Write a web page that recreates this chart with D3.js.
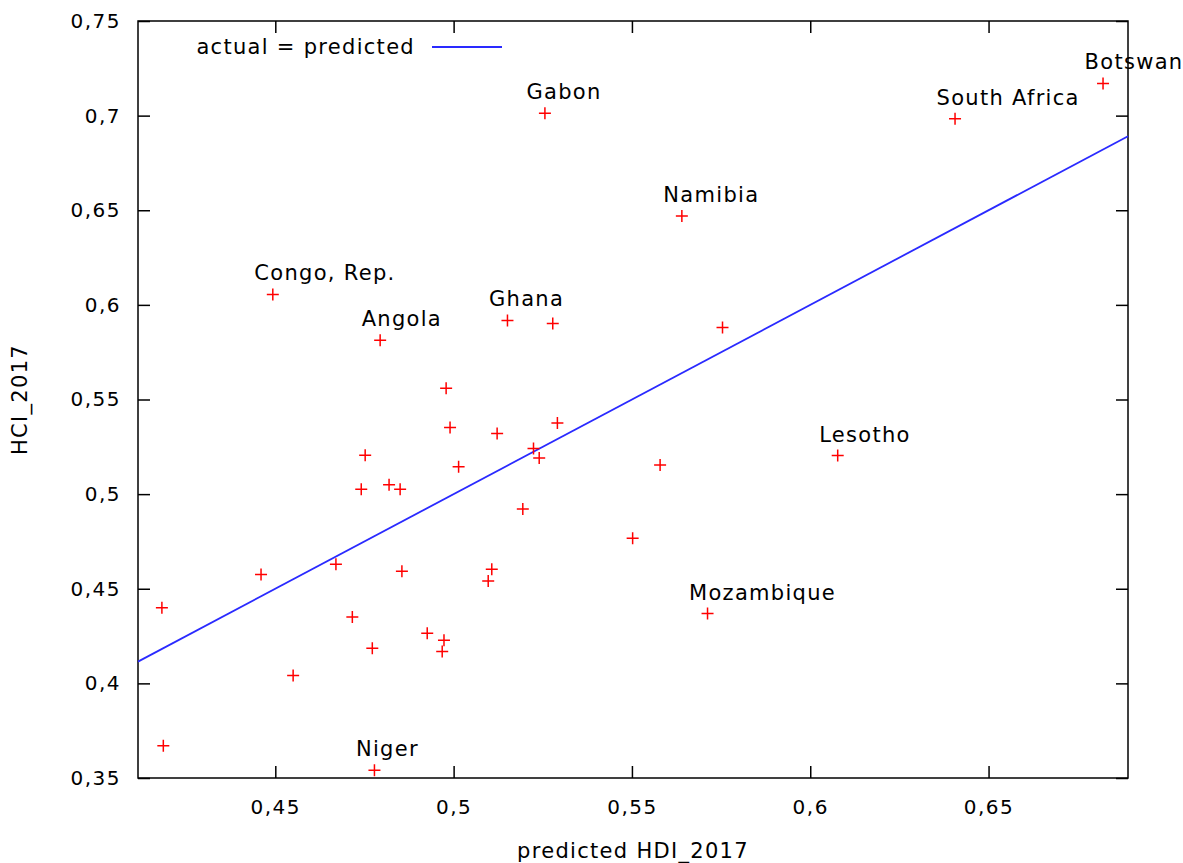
<!DOCTYPE html>
<html lang="en">
  <head>
    <meta charset="utf-8">
    <title>HCI vs predicted HDI</title>
    <style>
      body { margin: 0; background: #fff; }
      text { font-family: "DejaVu Sans", Verdana, sans-serif; font-size: 21px; letter-spacing: 1.3px; fill: #000; }
    </style>
  </head>
  <body>
    <svg id="chart"></svg>

    <script src="https://d3js.org/d3.v7.min.js"></script>

    <script type="text/javascript">
      // data: predicted HDI_2017 (x) and HCI_2017 (y)
      const countries = ['', '', '', '', 'Congo, Rep.', '', '', '', '', '', 'Angola', 'Niger', '', '', '', '', '', '',
                         '', '', '', '', '', '', 'Ghana', '', '', '', 'Gabon', '', '', '', '', 'Namibia', 'Mozambique',
                         '', 'Lesotho', 'South Africa', 'Botswana'];
      const predicted = [0.4182, 0.4186, 0.4460, 0.4550, 0.4493, 0.4670, 0.4716, 0.4752, 0.4741, 0.4772, 0.4794, 0.4778,
                         0.4819, 0.4850, 0.4855, 0.4926, 0.4973, 0.4968, 0.4979, 0.4990, 0.5014, 0.5097, 0.5107, 0.5122,
                         0.5151, 0.5194, 0.5224, 0.5240, 0.5256, 0.5278, 0.5291, 0.5502, 0.5579, 0.5640, 0.5712, 0.5754,
                         0.6077, 0.6406, 0.6821];
      const actual = [0.4399, 0.3671, 0.4575, 0.4041, 0.6055, 0.4630, 0.4351, 0.5206, 0.5026, 0.4186, 0.5813, 0.3541,
                      0.5049, 0.5026, 0.4593, 0.4265, 0.4228, 0.4168, 0.5560, 0.5352, 0.5144, 0.4541, 0.4603, 0.5320,
                      0.5918, 0.4922, 0.5241, 0.5191, 0.7012, 0.5902, 0.5376, 0.4767, 0.5154, 0.6470, 0.4369, 0.5881,
                      0.5204, 0.6983, 0.7170];
      const xTicks = [0.45, 0.5, 0.55, 0.6, 0.65];
      const yTicks = [0.35, 0.4, 0.45, 0.5, 0.55, 0.6, 0.65, 0.7, 0.75];
      const xDomain = [0.4115, 0.6891];
      const yDomain = [0.35, 0.75];

      const width = 1183, height = 863;
      const m = { left: 138, right: 1128, top: 21, bottom: 778 };

      const svg = d3.select('#chart')
        .attr('width', width)
        .attr('height', height);

      const x = d3.scaleLinear().domain(xDomain).range([m.left, m.right]);
      const y = d3.scaleLinear().domain(yDomain).range([m.bottom, m.top]);
      const fmt = v => String(v).replace('.', ',');

      // ticks (mirrored on all four sides, pointing inward)
      const tickLen = 12;
      svg.append('g')
        .attr('transform', `translate(0,${m.bottom})`)
        .call(d3.axisBottom(x).tickValues(xTicks).tickSize(-tickLen).tickPadding(22).tickFormat(fmt))
        .call(g => g.select('.domain').remove());
      svg.append('g')
        .attr('transform', `translate(0,${m.top})`)
        .call(d3.axisTop(x).tickValues(xTicks).tickSize(-tickLen).tickFormat(''))
        .call(g => g.select('.domain').remove());
      svg.append('g')
        .attr('transform', `translate(${m.left},0)`)
        .call(d3.axisLeft(y).tickValues(yTicks).tickSize(-tickLen).tickPadding(17).tickFormat(fmt))
        .call(g => g.select('.domain').remove());
      svg.append('g')
        .attr('transform', `translate(${m.right},0)`)
        .call(d3.axisRight(y).tickValues(yTicks).tickSize(-tickLen).tickFormat(''))
        .call(g => g.select('.domain').remove());

      svg.selectAll('.tick line').attr('stroke', '#000').attr('stroke-width', 1.5);
      svg.selectAll('.tick text')
        .attr('font-size', 20).attr('font-family', '"DejaVu Sans", Verdana, sans-serif')
        .style('letter-spacing', '1.5px').style('font-size', '20px').attr('fill', '#000');

      // border
      svg.append('rect')
        .attr('x', m.left).attr('y', m.top)
        .attr('width', m.right - m.left).attr('height', m.bottom - m.top)
        .attr('fill', 'none').attr('stroke', '#000').attr('stroke-width', 1.5);

      // actual = predicted line
      svg.append('line')
        .attr('x1', x(xDomain[0])).attr('y1', y(xDomain[0]))
        .attr('x2', x(xDomain[1])).attr('y2', y(xDomain[1]))
        .attr('stroke', '#2a2aff').attr('stroke-width', 1.8);

      // points as plus signs
      const data = countries.map((c, i) => ({ name: c, px: predicted[i], py: actual[i] }));
      const s = 6;
      svg.append('g').selectAll('path').data(data).join('path')
        .attr('d', d => `M${x(d.px) - s},${y(d.py)}H${x(d.px) + s}M${x(d.px)},${y(d.py) - s}V${y(d.py) + s}`)
        .attr('stroke', '#ff0000').attr('stroke-width', 1.5);

      // country labels (Botswana runs off the right edge, as in the original)
      svg.append('g').selectAll('text').data(data.filter(d => d.name)).join('text')
        .attr('x', d => x(d.px) - 18.5)
        .attr('y', d => y(d.py) - 14)
        .text(d => d.name);

      // legend
      svg.append('text')
        .attr('x', 415).attr('y', 54)
        .attr('text-anchor', 'end')
        .text('actual = predicted');
      svg.append('line')
        .attr('x1', 432).attr('x2', 502)
        .attr('y1', 47).attr('y2', 47)
        .attr('stroke', '#2a2aff').attr('stroke-width', 1.8);

      // axis titles
      svg.append('text')
        .attr('x', (m.left + m.right) / 2).attr('y', 858)
        .attr('text-anchor', 'middle')
        .text('predicted HDI_2017');
      svg.append('text')
        .attr('transform', `translate(27,${(m.top + m.bottom) / 2}) rotate(-90)`)
        .attr('text-anchor', 'middle')
        .text('HCI_2017');
    </script>
  </body>
</html>
